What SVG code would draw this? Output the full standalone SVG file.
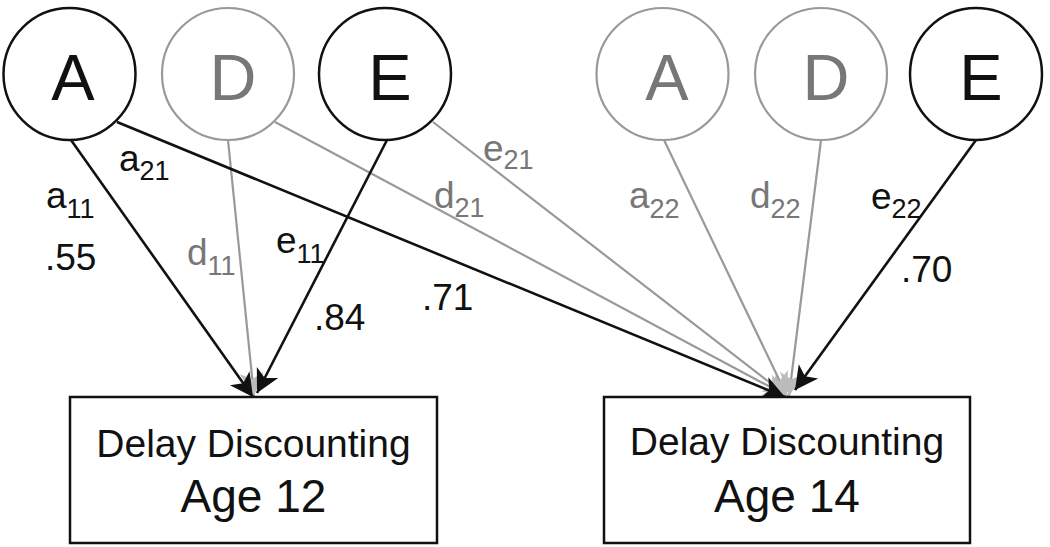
<svg xmlns="http://www.w3.org/2000/svg" width="1050" height="547" viewBox="0 0 1050 547">
<style>
.bk{fill:none;stroke:#111;stroke-width:2.6}
.gr{fill:none;stroke:#999;stroke-width:2.2}
.lb{fill:#111;stroke:none}
.lg{fill:#777;stroke:none}
text{font-family:"Liberation Sans",Arial,sans-serif}
.big{font-size:65px}
.lab{font-size:37px}
.sub{font-size:27px}
.bx{font-size:39px}
.age{font-size:46px}
.cb{fill:#fff;stroke:#111;stroke-width:2.5}
.cg{fill:#fff;stroke:#999;stroke-width:2.2}
</style>
<defs>
<marker id="hb" markerUnits="userSpaceOnUse" viewBox="0 0 26 26" markerWidth="26" markerHeight="26" refX="25" refY="13" orient="auto"><path d="M25,13 L2,1 L8,13 L2,25 Z" fill="#111"/></marker>
<marker id="hg" markerUnits="userSpaceOnUse" viewBox="0 0 26 26" markerWidth="26" markerHeight="26" refX="25" refY="13" orient="auto"><path d="M25,13 L2,1 L8,13 L2,25 Z" fill="#bbb"/></marker>
</defs>
<rect width="1050" height="547" fill="#fff"/>
<g id="connectors">
<line class="gr" x1="275" y1="122" x2="787" y2="396" marker-end="url(#hg)"/>
<line class="gr" x1="433" y1="122" x2="787" y2="396" marker-end="url(#hg)"/>
<line class="gr" x1="664" y1="140" x2="787" y2="396" marker-end="url(#hg)"/>
<line class="gr" x1="821" y1="140" x2="789" y2="396" marker-end="url(#hg)"/>
<line class="gr" x1="228" y1="140" x2="254" y2="396" marker-end="url(#hg)"/>
<line class="bk" x1="71" y1="140" x2="253" y2="397" marker-end="url(#hb)"/>
<line class="bk" x1="387" y1="140" x2="257" y2="393" marker-end="url(#hb)"/>
<line class="bk" x1="117" y1="122" x2="785" y2="397" marker-end="url(#hb)"/>
<line class="bk" x1="976" y1="140" x2="795" y2="390" marker-end="url(#hb)"/>
</g>
<g id="labels">
<text class="lab lb" x="46" y="208">a<tspan class="sub" dy="10">11</tspan></text>
<text class="lab lb" x="45" y="270">.55</text>
<text class="lab lb" x="119" y="171">a<tspan class="sub" dy="9">21</tspan></text>
<text class="lab lg" x="187" y="265">d<tspan class="sub" dy="10">11</tspan></text>
<text class="lab lb" x="276" y="253">e<tspan class="sub" dy="10">11</tspan></text>
<text class="lab lb" x="314" y="330">.84</text>
<text class="lab lb" x="422" y="310">.71</text>
<text class="lab lg" x="434" y="208">d<tspan class="sub" dy="9">21</tspan></text>
<text class="lab lg" x="483" y="161">e<tspan class="sub" dy="8">21</tspan></text>
<text class="lab lg" x="629" y="208">a<tspan class="sub" dy="10">22</tspan></text>
<text class="lab lg" x="750" y="208">d<tspan class="sub" dy="10">22</tspan></text>
<text class="lab lb" x="871" y="209">e<tspan class="sub" dy="9">22</tspan></text>
<text class="lab lb" x="901" y="282">.70</text>
</g>
<g id="A1"><circle class="cb" cx="69.5" cy="74" r="66"/><text class="big lb" x="73" y="100" text-anchor="middle">A</text></g>
<g id="D1"><circle class="cg" cx="228" cy="74" r="66"/><text class="big lg" x="233" y="100" text-anchor="middle">D</text></g>
<g id="E1"><circle class="cb" cx="385" cy="74" r="66"/><text class="big lb" x="390" y="100" text-anchor="middle">E</text></g>
<g id="A2"><circle class="cg" cx="662.5" cy="74" r="66"/><text class="big lg" x="667" y="100" text-anchor="middle">A</text></g>
<g id="D2"><circle class="cg" cx="821" cy="74" r="66"/><text class="big lg" x="826" y="100" text-anchor="middle">D</text></g>
<g id="E2"><circle class="cb" cx="976" cy="74" r="66"/><text class="big lb" x="981" y="100" text-anchor="middle">E</text></g>
<g id="DD12"><rect class="cb" x="70" y="397" width="367" height="146"/><text class="bx lb" x="253.5" y="457" text-anchor="middle">Delay Discounting</text><text class="age lb" x="253.5" y="512" text-anchor="middle">Age 12</text></g>
<g id="DD14"><rect class="cb" x="604" y="397" width="366" height="146"/><text class="bx lb" x="787" y="455" text-anchor="middle">Delay Discounting</text><text class="age lb" x="787" y="512" text-anchor="middle">Age 14</text></g>
</svg>
